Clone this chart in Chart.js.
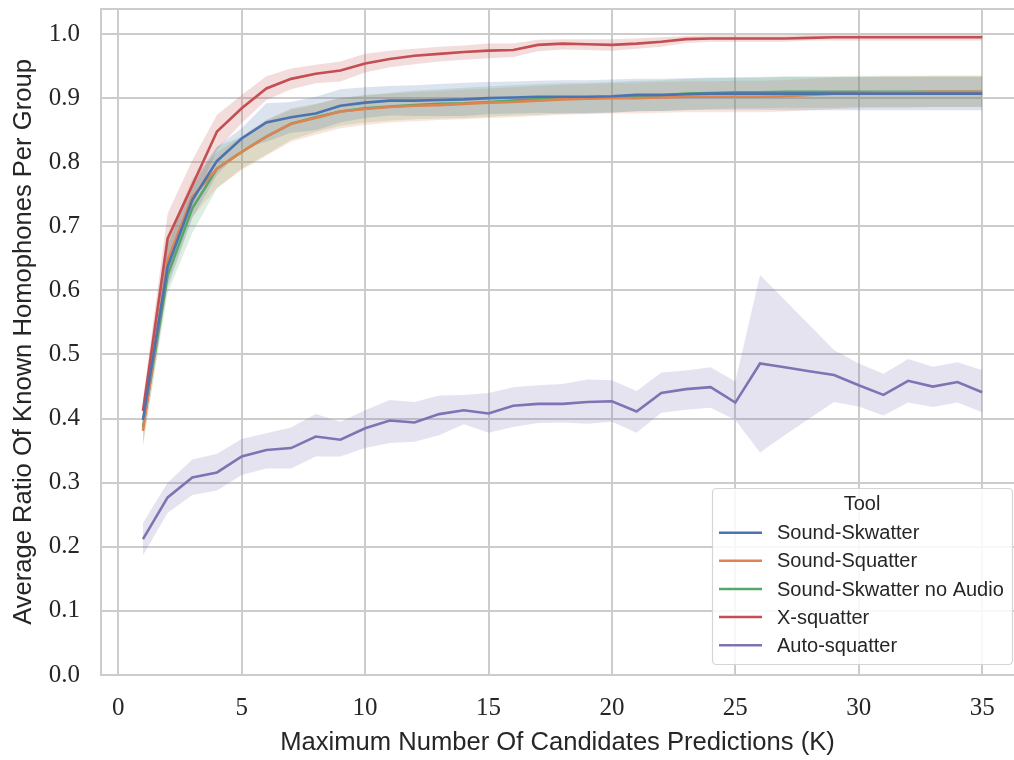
<!DOCTYPE html>
<html>
<head>
<meta charset="utf-8">
<script src="https://cdn.jsdelivr.net/npm/chart.js@4.4.1/dist/chart.umd.min.js"></script>
<style>
html,body{margin:0;padding:0;background:#fff;overflow:hidden;}
canvas{display:block;}
</style>
</head>
<body>
<canvas id="c" width="1014" height="760"></canvas>
<script>
// ---- data ----
const K = [1,2,3,4,5,6,7,8,9,10,11,12,13,14,15,16,17,18,19,20,21,22,23,24,25,26,27,28,29,30,31,32,33,34,35];
const xTicks = [0,5,10,15,20,25,30,35];
const yTicks = [0,0.1,0.2,0.3,0.4,0.5,0.6,0.7,0.8,0.9,1.0];
const seriesNames = ["Sound-Skwatter","Sound-Squatter","Sound-Skwatter no Audio","X-squatter","Auto-squatter"];

const skwatterMean = [0.398,0.637,0.741,0.802,0.837,0.862,0.870,0.876,0.888,0.893,0.896,0.896,0.897,0.898,0.900,0.901,0.902,0.902,0.902,0.903,0.905,0.905,0.906,0.907,0.907,0.907,0.907,0.907,0.907,0.907,0.907,0.907,0.907,0.907,0.907];
const skwatterUpper = [0.42,0.67,0.77,0.824,0.853,0.892,0.894,0.902,0.914,0.917,0.919,0.920,0.922,0.924,0.925,0.926,0.927,0.928,0.928,0.929,0.930,0.930,0.931,0.932,0.932,0.932,0.933,0.933,0.933,0.933,0.933,0.933,0.933,0.933,0.933];
const skwatterLower = [0.376,0.604,0.712,0.780,0.821,0.832,0.846,0.850,0.862,0.869,0.873,0.872,0.872,0.872,0.875,0.876,0.877,0.876,0.876,0.877,0.880,0.880,0.881,0.882,0.882,0.882,0.881,0.881,0.881,0.881,0.881,0.881,0.881,0.881,0.881];

const squatterMean = [0.381,0.647,0.746,0.790,0.816,0.840,0.860,0.869,0.879,0.883,0.886,0.888,0.889,0.891,0.893,0.894,0.896,0.898,0.899,0.900,0.900,0.901,0.902,0.902,0.902,0.902,0.903,0.905,0.907,0.908,0.909,0.909,0.910,0.910,0.910];
const squatterUpper = [0.40,0.68,0.775,0.815,0.840,0.866,0.884,0.891,0.900,0.904,0.907,0.909,0.911,0.913,0.915,0.917,0.919,0.921,0.922,0.923,0.924,0.925,0.926,0.926,0.927,0.927,0.928,0.930,0.932,0.933,0.934,0.934,0.935,0.935,0.935];
const squatterLower = [0.356,0.61,0.715,0.760,0.788,0.810,0.832,0.843,0.853,0.858,0.862,0.864,0.866,0.867,0.869,0.870,0.872,0.874,0.875,0.876,0.876,0.877,0.878,0.878,0.878,0.878,0.879,0.881,0.883,0.884,0.885,0.885,0.886,0.886,0.886];

const noAudioMean = [0.387,0.624,0.728,0.790,0.816,0.840,0.860,0.870,0.879,0.884,0.887,0.889,0.891,0.892,0.894,0.896,0.898,0.899,0.900,0.901,0.902,0.904,0.907,0.908,0.909,0.909,0.910,0.910,0.910,0.910,0.910,0.910,0.910,0.910,0.910];
const noAudioUpper = [0.41,0.68,0.76,0.824,0.840,0.866,0.882,0.890,0.900,0.905,0.908,0.912,0.914,0.916,0.918,0.920,0.922,0.923,0.924,0.925,0.927,0.928,0.930,0.931,0.932,0.933,0.934,0.934,0.934,0.935,0.935,0.935,0.935,0.935,0.935];
const noAudioLower = [0.36,0.596,0.69,0.759,0.790,0.812,0.835,0.847,0.857,0.862,0.865,0.867,0.868,0.869,0.871,0.873,0.874,0.876,0.877,0.878,0.879,0.880,0.882,0.883,0.884,0.884,0.885,0.885,0.885,0.886,0.886,0.886,0.886,0.886,0.886];

const xsquatterMean = [0.412,0.681,0.764,0.848,0.884,0.915,0.930,0.938,0.943,0.954,0.961,0.966,0.969,0.972,0.974,0.975,0.983,0.985,0.984,0.983,0.985,0.988,0.992,0.993,0.993,0.993,0.993,0.994,0.995,0.995,0.995,0.995,0.995,0.995,0.995];
const xsquatterUpper = [0.43,0.720,0.803,0.874,0.905,0.934,0.946,0.952,0.957,0.969,0.974,0.977,0.980,0.982,0.985,0.985,0.991,0.992,0.992,0.992,0.993,0.995,0.997,0.998,0.998,0.998,0.998,0.999,0.999,0.999,0.999,0.999,0.999,0.999,0.999];
const xsquatterLower = [0.39,0.645,0.731,0.819,0.861,0.897,0.914,0.923,0.926,0.940,0.948,0.953,0.957,0.960,0.962,0.964,0.973,0.976,0.975,0.974,0.977,0.980,0.986,0.988,0.988,0.988,0.988,0.990,0.990,0.990,0.990,0.990,0.990,0.990,0.990];

const autoMean = [0.212,0.277,0.308,0.316,0.341,0.351,0.354,0.372,0.367,0.385,0.397,0.394,0.407,0.413,0.408,0.420,0.423,0.423,0.426,0.427,0.411,0.440,0.446,0.449,0.425,0.486,0.480,0.474,0.468,0.452,0.437,0.459,0.450,0.457,0.441];
const autoUpper = [0.237,0.300,0.336,0.345,0.368,0.377,0.386,0.407,0.395,0.413,0.429,0.426,0.436,0.437,0.440,0.449,0.452,0.454,0.461,0.460,0.443,0.472,0.475,0.480,0.458,0.624,0.585,0.546,0.507,0.486,0.470,0.493,0.481,0.488,0.476];
const autoLower = [0.187,0.253,0.281,0.288,0.312,0.322,0.322,0.341,0.341,0.354,0.362,0.364,0.374,0.391,0.378,0.387,0.393,0.394,0.392,0.395,0.378,0.409,0.414,0.417,0.398,0.347,0.374,0.400,0.426,0.419,0.405,0.425,0.418,0.425,0.410];

// ---- styling ----
const colors = ["#4C72B0","#DD8452","#55A868","#C44E52","#8172B3"];
const means = [skwatterMean, squatterMean, noAudioMean, xsquatterMean, autoMean];
const uppers = [skwatterUpper, squatterUpper, noAudioUpper, xsquatterUpper, autoUpper];
const lowers = [skwatterLower, squatterLower, noAudioLower, xsquatterLower, autoLower];
const TEXT = "#262626";
const GRID = "#cccccc";

function pts(arr){ return K.map((k,i)=>({x:k,y:arr[i]})); }
function rgba(hex,a){const n=parseInt(hex.slice(1),16);return `rgba(${n>>16&255},${n>>8&255},${n&255},${a})`;}

const datasets = [];
for (let s=0;s<5;s++){
  datasets.push({label:seriesNames[s], data:pts(means[s]), borderColor:colors[s], borderWidth:2.6,
    pointRadius:0, pointHoverRadius:0, pointHitRadius:0, fill:false, tension:0, order:s});
}
for (let s=0;s<5;s++){
  datasets.push({label:"_lo"+s, data:pts(lowers[s]), borderWidth:0, borderColor:"rgba(0,0,0,0)", pointRadius:0, pointHoverRadius:0, pointHitRadius:0, fill:false, order:10+2*s});
  datasets.push({label:"_hi"+s, data:pts(uppers[s]), borderWidth:0, borderColor:"rgba(0,0,0,0)", pointRadius:0, pointHoverRadius:0, pointHitRadius:0,
    fill:datasets.length-1, backgroundColor:rgba(colors[s],0.2), order:10+2*s});
}

const framePlugin = {
  id:'frame',
  afterDraw(chart){
    const {ctx, chartArea:a} = chart;
    ctx.save();
    ctx.strokeStyle = GRID; ctx.lineWidth = 2;
    ctx.beginPath(); ctx.moveTo(a.left, a.top); ctx.lineTo(a.right, a.top); ctx.stroke();
    // legend
    const L = {x:712.5, y:488.5, w:300, h:176};
    ctx.fillStyle = "rgba(255,255,255,0.85)"; ctx.strokeStyle = "#d5d5d5"; ctx.lineWidth = 1.2;
    ctx.beginPath(); ctx.roundRect(L.x, L.y, L.w, L.h, 4); ctx.fill(); ctx.stroke();
    ctx.fillStyle = TEXT; ctx.textBaseline = "middle";
    ctx.font = "20px 'Liberation Sans', sans-serif";
    ctx.textAlign = "center";
    ctx.fillText("Tool", 862, 504);
    ctx.textAlign = "left";
    const rows = [532.7, 560.7, 589, 617, 645.3];
    for (let s=0;s<5;s++){
      ctx.strokeStyle = colors[s]; ctx.lineWidth = 2.6;
      ctx.beginPath(); ctx.moveTo(719, rows[s]); ctx.lineTo(762, rows[s]); ctx.stroke();
      ctx.fillText(seriesNames[s], 777, rows[s]+1);
    }
    ctx.restore();
  }
};

new Chart(document.getElementById('c'), {
  type:'line',
  data:{datasets},
  plugins:[framePlugin],
  options:{
    responsive:false, animation:false, devicePixelRatio:1,
    layout:{padding:{left:0,right:0,top:9,bottom:0}, autoPadding:false},
    plugins:{legend:{display:false}, tooltip:{enabled:false}, filler:{propagate:false}},
    scales:{
      x:{type:'linear', min:-0.7, max:36.29,
        afterBuildTicks(sc){ sc.ticks = xTicks.map(v=>({value:v})); },
        afterFit(sc){ sc.height = 85; },
        grid:{color:GRID, lineWidth:2, drawTicks:false},
        border:{color:GRID, width:2},
        ticks:{color:TEXT, font:{family:"'Liberation Serif', serif", size:25}, padding:18.5, maxRotation:0, callback:v=>String(v)},
        title:{display:true, text:"Maximum Number Of Candidates Predictions (K)", color:TEXT,
          font:{family:"'Liberation Sans', sans-serif", size:25.6}, padding:{top:0,bottom:2}}
      },
      y:{type:'linear', min:0, max:1.039,
        afterBuildTicks(sc){ sc.ticks = yTicks.map(v=>({value:v})); },
        afterFit(sc){ sc.width = 101; },
        grid:{color:GRID, lineWidth:2, drawTicks:true, tickLength:21, tickColor:"rgba(0,0,0,0)"},
        border:{color:GRID, width:2},
        ticks:{color:TEXT, font:{family:"'Liberation Serif', serif", size:25, lineHeight:0.72}, padding:0, callback:v=>v.toFixed(1)},
        title:{display:true, text:"Average Ratio Of Known Homophones Per Group", color:TEXT,
          font:{family:"'Liberation Sans', sans-serif", size:25.6}, padding:{top:9,bottom:0}}
      }
    }
  }
});
</script>
</body>
</html>
